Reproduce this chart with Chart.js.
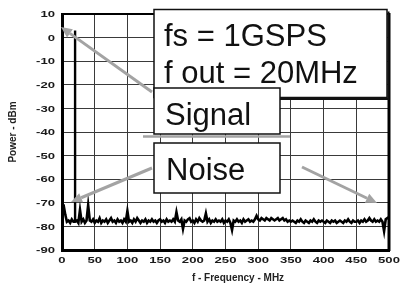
<!DOCTYPE html>
<html>
<head>
<meta charset="utf-8">
<script src="https://cdn.jsdelivr.net/npm/chart.js@4.4.1/dist/chart.umd.min.js"></script>
<style>
  html, body { margin: 0; padding: 0; background: #fff; }
  #wrap { width: 408px; height: 288px; }
</style>
</head>
<body>
<div id="wrap"><canvas id="c" width="408" height="288"></canvas></div>
<script>
// ---- data ----
const freqStepMHz = 2.5;
const powerDbm = [
  -70.5,-71,-75,-78,-77.5,-78.5,-77,-78,-78,-77.5,-78.5,-73,-78,-77,-78.5,-77.5,-71,-77.5,-78,-77,
  -78.5,-77.5,-78,-76.5,-78.5,-77.5,-78,-77,-78.5,-77.5,-76.5,-78,-77.5,-78.5,-77,-78,-77.5,-78.5,-77,-78,
  -73.5,-78,-77.5,-78.5,-77,-78,-76.5,-77.5,-78.5,-77.5,-78,-77,-78.5,-77.5,-78,-77,-78,-77.5,-78.5,-77.5,
  -77,-78,-77.5,-78.5,-77,-78,-77.5,-78,-77,-78,-74,-77.5,-78,-77,-81,-77.5,-78,-77,-76.5,-78,
  -77.5,-78.5,-77,-78,-76.5,-77.5,-78,-77.5,-74.5,-78,-77,-78.5,-77.5,-78,-77,-78,-77.5,-78,-77,-78.5,
  -77.5,-78,-77,-78.5,-81.5,-77.5,-78,-77,-78,-77.5,-78.5,-77,-78,-77.5,-77,-78,-77.5,-78,-77,-75.5,
  -77,-77.5,-76.5,-77,-77.5,-76.5,-77,-77.5,-76.5,-77,-77.5,-77,-76.5,-77.5,-77,-76.5,-77.5,-77,-78,-77.5,
  -78,-77.5,-78,-78.5,-77.5,-78,-77,-78,-78.5,-77.5,-78,-78.5,-77.5,-78,-77,-78,-78.5,-77.5,-78,-77.5,
  -78,-78.5,-77.5,-78,-78.5,-77.5,-78,-77.5,-78.5,-78,-77.5,-78,-78.5,-77.5,-78,-77,-78,-78.5,-77.5,-78,
  -78,-77.5,-78.5,-77.5,-78,-77,-78,-77.5,-76.5,-77.5,-78,-77,-78,-77.5,-78,-77,-78,-82,-77,-76.5,
  -76
];
const signalFreqMHz = [20, 20];
const signalDbm = [-78, 3];
const xTicks = [0,50,100,150,200,250,300,350,400,450,500];
const yTicks = [10,0,-10,-20,-30,-40,-50,-60,-70,-80,-90];
const xTitle = 'f - Frequency - MHz';
const yTitle = 'Power - dBm';
const infoLines = ['fs = 1GSPS', 'f out = 20MHz'];
const signalLabel = 'Signal';
const noiseLabel = 'Noise';

const points = powerDbm.map((v, i) => ({ x: i * freqStepMHz, y: v }));
const signalPoints = signalDbm.map((v, i) => ({ x: signalFreqMHz[i], y: v }));

const FONT = '"Liberation Sans", Arial, Helvetica, sans-serif';

function arrow(ctx, x1, y1, x2, y2) {
  const ang = Math.atan2(y2 - y1, x2 - x1);
  const hl = 11, hw = 5;
  const bx = x2 - hl * Math.cos(ang), by = y2 - hl * Math.sin(ang);
  ctx.beginPath();
  ctx.moveTo(x1, y1);
  ctx.lineTo(bx, by);
  ctx.stroke();
  ctx.beginPath();
  ctx.moveTo(x2, y2);
  ctx.lineTo(bx + hw * Math.sin(ang), by - hw * Math.cos(ang));
  ctx.lineTo(bx - hw * Math.sin(ang), by + hw * Math.cos(ang));
  ctx.closePath();
  ctx.fill();
}

function box(ctx, x, y, w, h, shadow) {
  ctx.fillStyle = '#fff';
  ctx.fillRect(x, y, w, h);
  ctx.strokeStyle = '#111';
  ctx.lineWidth = 1.5;
  ctx.strokeRect(x, y, w, h);
  if (shadow) {
    ctx.lineWidth = 2;
    ctx.beginPath();
    ctx.moveTo(x + w + 1.5, y + 2);
    ctx.lineTo(x + w + 1.5, y + h + 1.5);
    ctx.lineTo(x + 4, y + h + 1.5);
    ctx.stroke();
  }
}

const overlay = {
  id: 'overlay',
  afterDraw(chart) {
    const ctx = chart.ctx;
    const a = chart.chartArea;
    const xs = chart.scales.x, ys = chart.scales.y;
    ctx.save();
    // top & right frame
    ctx.strokeStyle = '#000';
    ctx.lineWidth = 2;
    ctx.beginPath(); ctx.moveTo(a.left, a.top); ctx.lineTo(a.right, a.top); ctx.stroke();
    ctx.lineWidth = 3;
    ctx.beginPath(); ctx.moveTo(a.right, a.top - 1); ctx.lineTo(a.right, a.bottom + 1); ctx.stroke();

    // tick labels (stretched bold)
    ctx.fillStyle = '#1a1a1a';
    ctx.font = 'bold 9.5px ' + FONT;
    const sx = 1.38;
    ctx.textBaseline = 'middle';
    ctx.textAlign = 'right';
    yTicks.forEach(v => {
      const py = ys.getPixelForValue(v);
      ctx.save(); ctx.translate(a.left - 7, py + 0.5); ctx.scale(sx, 1);
      ctx.fillText(String(v), 0, 0); ctx.restore();
    });
    ctx.textBaseline = 'alphabetic';
    ctx.textAlign = 'center';
    xTicks.forEach(v => {
      const px = xs.getPixelForValue(v);
      ctx.save(); ctx.translate(px, a.bottom + 13); ctx.scale(sx, 1);
      ctx.fillText(String(v), 0, 0); ctx.restore();
    });

    // axis titles
    ctx.fillStyle = '#222';
    ctx.font = 'bold 10px ' + FONT;
    ctx.textAlign = 'center';
    ctx.textBaseline = 'alphabetic';
    ctx.fillText(xTitle, 238, 281);
    ctx.save();
    ctx.translate(13, 132);
    ctx.rotate(-Math.PI / 2);
    ctx.textBaseline = 'middle';
    ctx.fillText(yTitle, 0, 0);
    ctx.restore();

    // arrows
    ctx.strokeStyle = '#a3a3a3';
    ctx.fillStyle = '#a3a3a3';
    ctx.lineWidth = 3;
    ctx.lineCap = 'butt';
    arrow(ctx, 152, 92, 61, 27);
    arrow(ctx, 152, 168, 71, 202);
    arrow(ctx, 302, 167, 377, 203);

    // boxes
    box(ctx, 154, 9.5, 233, 88, true);
    ctx.fillStyle = '#111';
    ctx.font = '31px ' + FONT;
    ctx.textAlign = 'left';
    ctx.textBaseline = 'alphabetic';
    ctx.fillText(infoLines[0], 164, 46);
    ctx.fillText(infoLines[1], 164, 83);

    box(ctx, 154, 88, 126, 46, false);
    ctx.fillStyle = '#111';
    ctx.fillText(signalLabel, 165, 125);

    ctx.strokeStyle = '#a3a3a3';
    ctx.lineWidth = 2.5;
    ctx.beginPath(); ctx.moveTo(143, 136.5); ctx.lineTo(290, 136.5); ctx.stroke();

    box(ctx, 154, 143, 126, 50, false);
    ctx.fillStyle = '#111';
    ctx.fillText(noiseLabel, 166, 180);
    ctx.restore();
  }
};

new Chart(document.getElementById('c'), {
  type: 'line',
  data: {
    datasets: [{
      data: points,
      borderColor: '#000',
      borderWidth: 2.6,
      pointRadius: 0,
      tension: 0,
      fill: false
    }, {
      data: signalPoints,
      borderColor: '#000',
      borderWidth: 2.4,
      pointRadius: 0,
      tension: 0,
      fill: false
    }]
  },
  options: {
    responsive: false,
    animation: false,
    events: [],
    layout: { padding: { top: 14, right: 19, left: 0, bottom: 0 } },
    plugins: { legend: { display: false }, tooltip: { enabled: false } },
    scales: {
      x: {
        type: 'linear',
        min: 0, max: 500,
        afterFit: s => { s.height = 38; },
        afterBuildTicks: s => { s.ticks = xTicks.map(v => ({ value: v })); },
        ticks: { display: false },
        grid: { color: '#3a3a3a', lineWidth: 1, drawTicks: false },
        border: { color: '#000', width: 3 }
      },
      y: {
        type: 'linear',
        min: -90, max: 10,
        afterFit: s => { s.width = 62; },
        afterBuildTicks: s => { s.ticks = yTicks.map(v => ({ value: v })); },
        ticks: { display: false },
        grid: { color: '#3a3a3a', lineWidth: 1, drawTicks: false },
        border: { color: '#000', width: 3 }
      }
    }
  },
  plugins: [overlay]
});
</script>
</body>
</html>
